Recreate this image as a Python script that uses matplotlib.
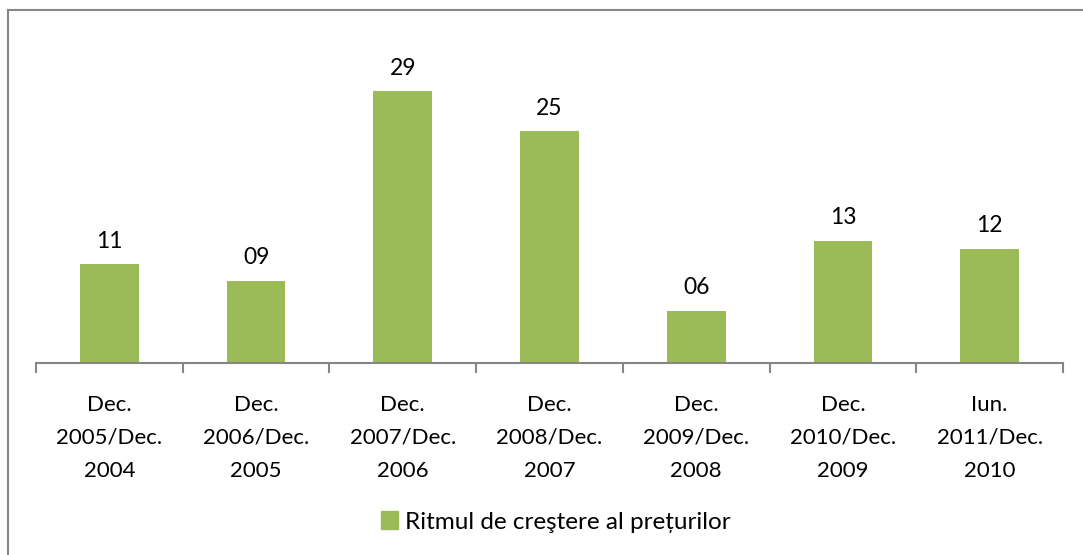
import matplotlib.pyplot as plt
from matplotlib.lines import Line2D
from matplotlib.patches import Patch

categories = ["Dec.\n2005/Dec.\n2004", "Dec.\n2006/Dec.\n2005", "Dec.\n2007/Dec.\n2006",
              "Dec.\n2008/Dec.\n2007", "Dec.\n2009/Dec.\n2008", "Dec.\n2010/Dec.\n2009",
              "Iun.\n2011/Dec.\n2010"]
values = [10.56, 8.80, 29.09, 24.81, 5.59, 13.05, 12.19]
series_name = "Ritmul de creştere al prețurilor"

plt.rcParams['font.family'] = ['Lato', 'DejaVu Sans']

fig = plt.figure(figsize=(10.83, 5.55), dpi=100)
ax = fig.add_axes([36 / 1083, 192 / 555, 1027 / 1083, 327 / 555])

x = range(len(values))
ax.bar(x, values, width=0.4, color="#9BBB59")
for xi, v in zip(x, values):
    ax.annotate("%02.0f" % v, (xi, v), xytext=(0, 12), textcoords="offset points",
                ha="center", va="baseline", fontsize=16.5)

ax.set_xlim(-0.5, len(values) - 0.5)
ax.set_ylim(0, 35)
ax.set_yticks([])
for s in ["top", "right", "left"]:
    ax.spines[s].set_visible(False)
ax.spines["bottom"].set_color("#868686")
ax.spines["bottom"].set_linewidth(1.5)

ax.set_xticks(list(x))
ax.set_xticklabels(categories, fontsize=16, linespacing=1.8)
ax.set_xticks([i - 0.5 for i in range(len(values) + 1)], minor=True)
ax.tick_params(axis="x", which="major", length=0, pad=23)
ax.tick_params(axis="x", which="minor", length=7, width=1.5, color="#868686", direction="out")

# chart frame (only top and left edges visible)
fig.add_artist(Line2D([7.5 / 1083, 1], [1 - 10 / 555, 1 - 10 / 555], color="#868686", lw=1.5))
fig.add_artist(Line2D([7.5 / 1083, 7.5 / 1083], [0, 1 - 10 / 555], color="#868686", lw=1.5))

handle = Patch(color="#9BBB59", label=series_name)
fig.legend(handles=[handle], loc="center", bbox_to_anchor=(556 / 1083, 1 - 522 / 555),
           frameon=False, fontsize=17.5, handlelength=0.7, handleheight=0.7, handletextpad=0.3)

fig.savefig("out.png", dpi=100)
